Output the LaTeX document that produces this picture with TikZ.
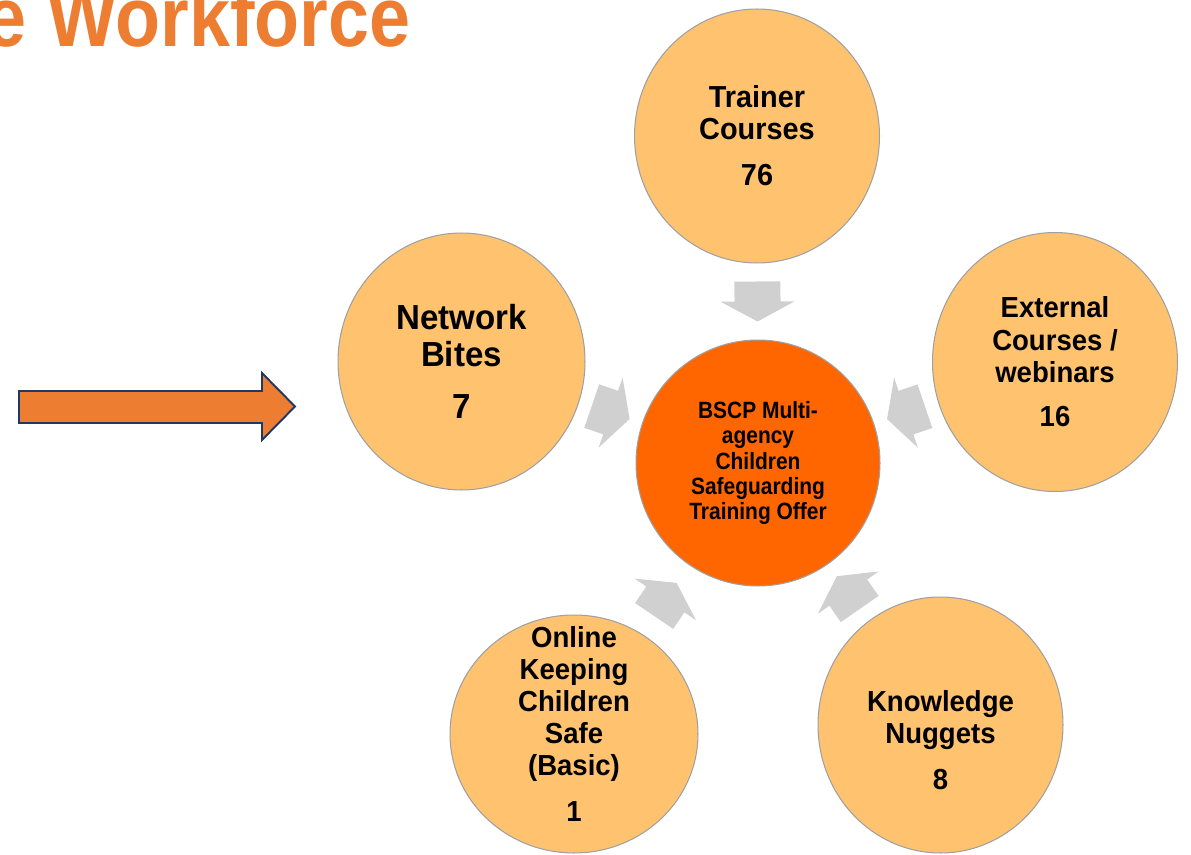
\documentclass[tikz,border=0pt]{standalone}
\usepackage{fontspec}
\setmainfont{Liberation Sans}
\newfontfamily\circfont[FakeStretch=0.95]{Liberation Sans}
\newfontfamily\hubfont[FakeStretch=0.89]{Liberation Sans}
\newfontfamily\titlefont[FakeStretch=0.87]{Liberation Sans}
\usetikzlibrary{shapes.geometric,decorations.markings}
\definecolor{titleorange}{HTML}{ED7D31}
\definecolor{navyrim}{HTML}{1F3864}
\definecolor{satfill}{HTML}{FFC36F}
\definecolor{hubfill}{HTML}{FF6600}
\definecolor{rimgrey}{HTML}{A0A0A0}
\definecolor{feedgrey}{HTML}{D0D0D0}
\tikzset{
  sat/.style={ellipse, draw=rimgrey, line width=0.6pt, fill=satfill, inner sep=0pt},
  sattext/.style={align=center, font=\circfont\bfseries\fontsize{16.5}{18.3}\selectfont},
  feed/.style={decorate, decoration={markings, mark=at position 0.5 with
    {\fill[feedgrey] (-20,-23) -- (0,-23) -- (0,-37) -- (20,0) -- (0,37) -- (0,23) -- (-20,23) -- cycle;}}}
}
\begin{document}
\begin{tikzpicture}[x=0.02cm,y=-0.02cm]
	\useasboundingbox (0,0) rectangle (1191,855);
	\fill[white] (0,0) rectangle (1191,855);
	%TITLE
	\node[anchor=base west, inner sep=0pt, text=titleorange, font=\titlefont\bfseries\fontsize{48.2}{50}\selectfont] (title) at (-14.5,47) {e Workforce};
	\draw[navyrim, line width=1.1pt, fill=titleorange] (19,391) -- (262,391) -- (262,373) -- (295,406.5) -- (262,440) -- (262,423) -- (19,423) -- cycle;
	%HUB
	\node[sat, fill=hubfill, minimum width=4.88cm, minimum height=4.92cm,
		label={[align=center, font=\hubfont\bfseries\fontsize{13.4}{14.5}\selectfont]center:BSCP Multi-\\agency\\Children\\Safeguarding\\Training Offer}] (hub) at (758,463) {};
	%SATELLITES
	\node[sat, minimum width=4.9cm, minimum height=5.08cm,
		label={[sattext, font=\circfont\bfseries\fontsize{17.3}{17.9}\selectfont]center:Trainer\\Courses\\[8.5pt]76}] (trainer) at (757,136) {};
	\node[sat, minimum width=4.94cm, minimum height=5.14cm,
		label={[sattext, font=\circfont\bfseries\fontsize{19.8}{21}\selectfont]center:Network\\Bites\\[9pt]7}] (bites) at (461.5,361.5) {};
	\node[sat, minimum width=4.9cm, minimum height=5.18cm,
		label={[sattext]center:External\\Courses /\\webinars\\[7pt]16}] (external) at (1055,362) {};
	\node[sat, minimum width=4.96cm, minimum height=4.76cm,
		label={[sattext, yshift=0.2cm]center:Online\\Keeping\\Children\\Safe\\(Basic)\\[8pt]1}] (online) at (574,734) {};
	\node[sat, minimum width=4.9cm, minimum height=5.12cm,
		label={[sattext, yshift=-0.3cm]center:Knowledge\\Nuggets\\[8pt]8}] (nuggets) at (940.5,725) {};
	%FEEDS
	\path[feed] (trainer) -- (hub);
	\path[feed] (bites) -- (hub);
	\path[feed] (external) -- (hub);
	\path[feed] (online) -- (hub);
	\path[feed] (nuggets) -- (hub);
\end{tikzpicture}
\end{document}
